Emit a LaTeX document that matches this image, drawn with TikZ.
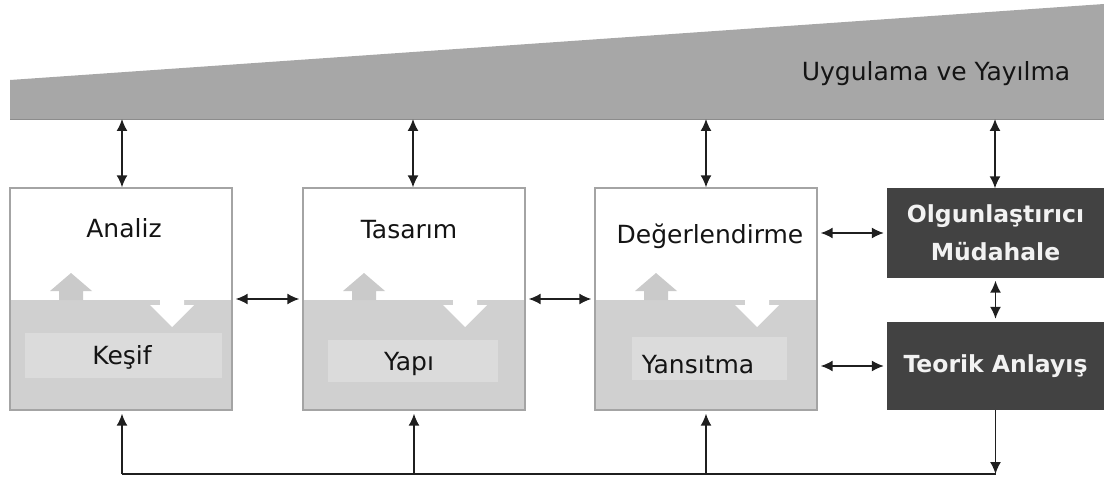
\documentclass[tikz,border=0pt]{standalone}
\usepackage{fontspec}
\setmainfont{DejaVu Sans}
\usetikzlibrary{arrows.meta,calc}
\definecolor{wedgegray}{HTML}{A7A7A7}
\definecolor{lowgray}{HTML}{D0D0D0}
\definecolor{innergray}{HTML}{DBDBDB}
\definecolor{upgray}{HTML}{CACACA}
\definecolor{bordergray}{HTML}{A4A4A4}
\definecolor{darkbox}{HTML}{424242}
\definecolor{lighttext}{HTML}{F2F2F2}
\definecolor{inktext}{HTML}{141414}
\tikzset{bigtip/.tip={Latex[length=12pt,width=11pt]}}
\begin{document}
\begin{tikzpicture}[x=1pt,y=-1pt,
  conn/.style={line width=1.5pt, draw=black!88},
  both/.style={conn,bigtip-bigtip},
  one/.style={conn,-bigtip},
  phasebox/.style={draw=bordergray, line width=1.4pt, minimum width=222pt, minimum height=222pt, inner sep=0pt},
  darkstep/.style={fill=darkbox, text=lighttext, minimum width=217pt, inner sep=0pt, align=center,
     font=\fontsize{23.5}{38}\selectfont\bfseries},
  lbl/.style={text=inktext, inner sep=0pt, font=\fontsize{25}{30}\selectfont},
]
\useasboundingbox (0,0) rectangle (1104,484);
% wedge
\fill[wedgegray] (10,80) -- (1104,4) -- (1104,119) -- (10,119) -- cycle;
\draw[draw=black!45, line width=0.8pt] (10,119) -- (1104,119);
\node[lbl, anchor=center] (wedge) at (936,74) {Uygulama ve Yayılma};
\coordinate (w1) at (122,119);
\coordinate (w2) at (413,119);
\coordinate (w3) at (706,119);
\coordinate (w4) at (995,119);

% phase boxes: fills
\foreach \x/\ia/\ib/\iy/\ih in {10/15/212/333/45, 303/25/195/340/42, 595/37/192/337/43}{
  \fill[lowgray] (\x,300) rectangle ++(222,110);
  \fill[innergray] (\x+\ia,\iy) rectangle (\x+\ib,\iy+\ih);
  % up arrow (grey on white)
  \fill[upgray] (\x+49,300) -- (\x+49,291) -- (\x+40,291) -- (\x+61,273) -- (\x+82,291) -- (\x+73,291) -- (\x+73,300) -- cycle;
  % down arrow (white on grey)
  \fill[white] (\x+150,300) -- (\x+150,305) -- (\x+140,305) -- (\x+162,327) -- (\x+184,305) -- (\x+174,305) -- (\x+174,300) -- cycle;
}
\node[phasebox] (b1) at (121,299) {};
\node[phasebox] (b2) at (414,299) {};
\node[phasebox] (b3) at (706,299) {};

\node[lbl] (analiz) at (124,228) {Analiz};
\node[lbl] (kesif) at (122,357) {Keşif};
\node[lbl] (tasarim) at (409,230) {Tasarım};
\node[lbl] (yapi) at (409,364) {Yapı};
\node[lbl] (deger) at (710,236) {Değerlendirme};
\node[lbl] (yansitma) at (698,365) {Yansıtma};

% dark boxes
\node[darkstep, minimum height=89pt] (olg) at (995.5,233) {Olgunlaştırıcı\\Müdahale};
\node[darkstep, minimum height=88pt] (teo) at (995.5,366) {Teorik Anlayış};

% top connectors
\draw[both] (w1) -- (w1 |- b1.north);
\draw[both] (w2) -- (w2 |- b2.north);
\draw[both] (w3) -- (w3 |- b3.north);
\draw[both] (w4) -- (w4 |- olg.north);

% horizontal connectors
\draw[both] ($(b1.east)+(3,0)$) -- ($(b2.west)+(-3,0)$);
\draw[both] ($(b2.east)+(3,0)$) -- ($(b3.west)+(-3,0)$);
\draw[both] ($(b3.east |- olg)+(3,0)$) -- ($(olg.west)+(-3,0)$);
\draw[both] ($(b3.east |- teo)+(3,0)$) -- ($(teo.west)+(-3,0)$);
\draw[both] ($(olg.south)+(0,3)$) -- ($(teo.north)+(0,-3)$);

% bottom feedback loop
\coordinate (c1) at (122,474);
\coordinate (c4) at (995.5,474);
\draw[conn] (c1) -- (c4);
\draw[one] (c1) -- ($(c1 |- b1.south)+(0,3)$);
\draw[one] (c1 -| b2) -- ($(b2.south)+(0,3)$);
\draw[one] (c1 -| b3) -- ($(b3.south)+(0,3)$);
\draw[one] (teo.south) -- (c4);
\end{tikzpicture}
\end{document}
